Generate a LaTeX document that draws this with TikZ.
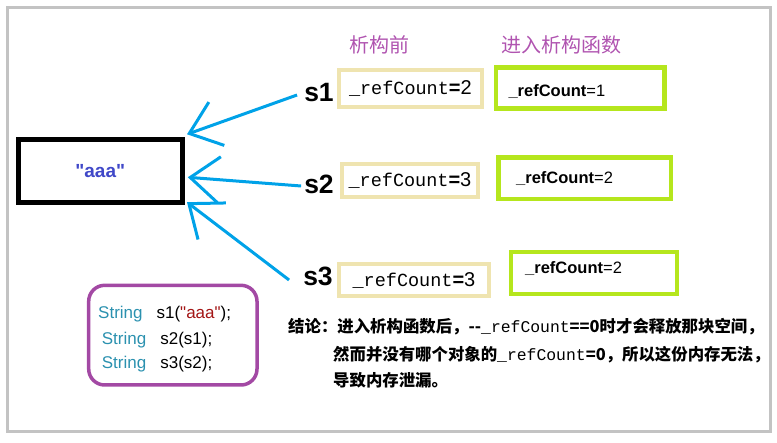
\documentclass[tikz,border=0pt]{standalone}
\usepackage{fontspec}
\setmainfont{Liberation Sans}
\setmonofont{Liberation Mono}
\newfontfamily\cjk{Noto Sans CJK SC}
\usetikzlibrary{arrows.meta}
\definecolor{framegray}{RGB}{195,195,195}
\definecolor{arrowblue}{RGB}{0,162,232}
\definecolor{aaablue}{RGB}{64,72,200}
\definecolor{tanbox}{RGB}{239,228,176}
\definecolor{limebox}{RGB}{181,230,29}
\definecolor{headpurple}{RGB}{176,84,176}
\definecolor{codepurple}{RGB}{163,73,164}
\definecolor{codetype}{RGB}{43,145,175}
\definecolor{codestr}{RGB}{163,21,21}
\newcommand\refcnt[1]{{\ttfamily\fontsize{18.5}{18.5}\selectfont\_refCount}{\fontsize{20}{20}\selectfont\textbf{=}#1}}

\begin{document}
\begin{tikzpicture}[x=1pt, y=-1pt, every node/.style={inner sep=0pt},
	>={Straight Barb[length=29pt,width=46pt]},
	ptr/.style={->, arrowblue, line width=3pt},
	svar/.style={font=\bfseries\fontsize{26.5}{26.5}\selectfont},
	head/.style={text=headpurple, font=\cjk\fontsize{20}{20}\selectfont},
	before/.style={draw=tanbox, line width=4pt},
	after/.style={draw=limebox, line width=4.5pt},
	aftertext/.style={anchor=west, font=\fontsize{16.5}{16.5}\selectfont},
	codeline/.style={anchor=base west, font=\fontsize{17}{17}\selectfont},
	note/.style={anchor=west, font=\cjk\bfseries\fontsize{16.4}{16.4}\selectfont}]
	\useasboundingbox (0,0) rectangle (777,443);
	\draw[framegray, line width=3pt] (7.5,7.5) rectangle (770,432);
	\node[draw, line width=5pt, minimum width=163.5pt, minimum height=63.2pt, text=aaablue, font=\bfseries\fontsize{19}{19}\selectfont] (str) at (100.25,170.9) {\textquotedbl aaa\textquotedbl};
	\node[svar] (s1) at (319,92.5) {s1};
	\node[svar] (s2) at (319,184) {s2};
	\node[svar] (s3) at (318,276) {s3};
	\draw[ptr] ([xshift=-7pt,yshift=-2.5pt]s1.west) -- ([xshift=2.5pt,yshift=2.5pt]str.north east);
	\draw[ptr] ([xshift=-3pt,yshift=-2pt]s2.west) -- ([xshift=3.3pt,yshift=-6.4pt]str.east);
	\draw[ptr] ([xshift=-14pt,yshift=-4pt]s3.west) -- ([xshift=2.5pt,yshift=2.8pt]str.south east);
	\node[head] (hbefore) at (379,45) {析构前};
	\node[head] (hafter) at (561.5,45) {进入析构函数};
	\node[before, minimum width=143.2pt, minimum height=36.7pt] (b1) at (410.4,88.7) {\refcnt{2}};
	\node[before, minimum width=136pt, minimum height=33.2pt] (b2) at (410,180.4) {\refcnt{3}};
	\node[before, minimum width=150pt, minimum height=31.5pt] (b3) at (414,280.25) {\refcnt{3}};
	\node[after, minimum width=168.5pt, minimum height=40.8pt] (a1) at (580.25,87.9) {};
	\node[after, minimum width=172.7pt, minimum height=41.5pt] (a2) at (584.7,178.25) {};
	\node[after, minimum width=166pt, minimum height=42pt] (a3) at (594,273) {};
	\node[aftertext] (t1) at (508.3,91.7) {\textbf{\_refCount}=1};
	\node[aftertext] (t2) at (516,178.3) {\textbf{\_refCount}=2};
	\node[aftertext] (t3) at (525,268.3) {\textbf{\_refCount}=2};
	\node[draw=codepurple, line width=3.5pt, rounded corners=16pt, minimum width=168.3pt, minimum height=99.7pt] (code) at (172.85,335.15) {};
	\node[codeline] (c1) at (98,318.3) {\textcolor{codetype}{String}\hspace{14pt}s1(\textcolor{codestr}{\textquotedbl aaa\textquotedbl});};
	\node[codeline] (c2) at (101.7,345) {\textcolor{codetype}{String}\hspace{14pt}s2(s1);};
	\node[codeline] (c3) at (101.7,368.3) {\textcolor{codetype}{String}\hspace{14pt}s3(s2);};
	\node[note] (n1) at (288,327) {结论：进入析构函数后，{-}{-}{\mdseries\ttfamily\_refCount}==0时才会释放那块空间，};
	\node[note] (n2) at (333,355) {然而并没有哪个对象的{\mdseries\ttfamily\_refCount}=0，所以这份内存无法，};
	\node[note] (n3) at (333,380.7) {导致内存泄漏。};
\end{tikzpicture}
\end{document}
